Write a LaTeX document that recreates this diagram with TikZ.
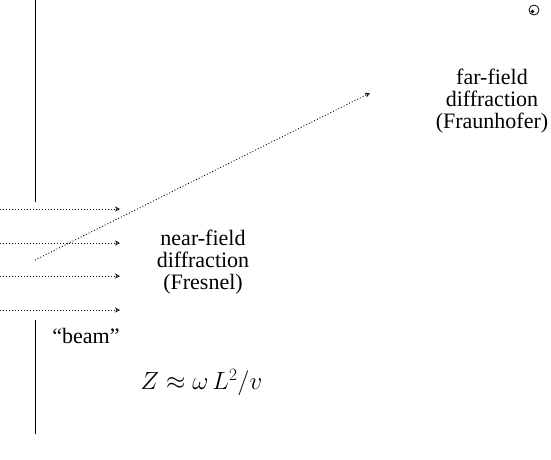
\documentclass[tikz,border=0pt]{standalone}
\usepackage[no-math]{fontspec}
\setmainfont{Liberation Serif}
\usetikzlibrary{arrows.meta}
\begin{document}
\begin{tikzpicture}[x=1pt,y=-1pt,
  lbl/.style={align=center,inner sep=0pt,font=\rmfamily\fontsize{22}{22}\selectfont},
  ray/.style={line width=0.9pt,dash pattern=on 0.9pt off 2.1pt,-{Stealth[open,length=5pt,width=5pt,line width=0.6pt]}},
  wall/.style={line width=0.9pt}]
\useasboundingbox (0,0) rectangle (551,459);
% slit walls
\coordinate (w1a) at (35.5,0);
\coordinate (w1b) at (35.5,201.5);
\coordinate (w2a) at (35.5,320);
\coordinate (w2b) at (35.5,434);
\draw[wall] (w1a) -- (w1b);
\draw[wall] (w2a) -- (w2b);
% incoming beam
\foreach \y [count=\i] in {209,243,276,310}{
  \coordinate (s\i) at (0,\y);
  \coordinate (e\i) at (120,\y);
  \draw[ray] (s\i) -- (e\i);
}
% diagonal ray
\coordinate (d0) at (35,260);
\coordinate (d1) at (370,93);
\draw[ray] (d0) -- (d1);
% labels
\node[lbl] (near) at (203,262) {near-field\\diffraction\\(Fresnel)};
\node[lbl] (far) at (492,101) {far-field\\diffraction\\(Fraunhofer)};
\node[lbl] (beam) at (86,336) {“beam”};
\node[inner sep=0pt,font=\fontsize{23.5}{26}\selectfont] (eq) at (201.5,383) {$Z\approx\omega\,L^2/v$};
% odot symbol
\draw[line width=0.8pt] (534,10) circle (5);
\fill (532.5,11.5) circle (1.8);
\end{tikzpicture}
\end{document}
